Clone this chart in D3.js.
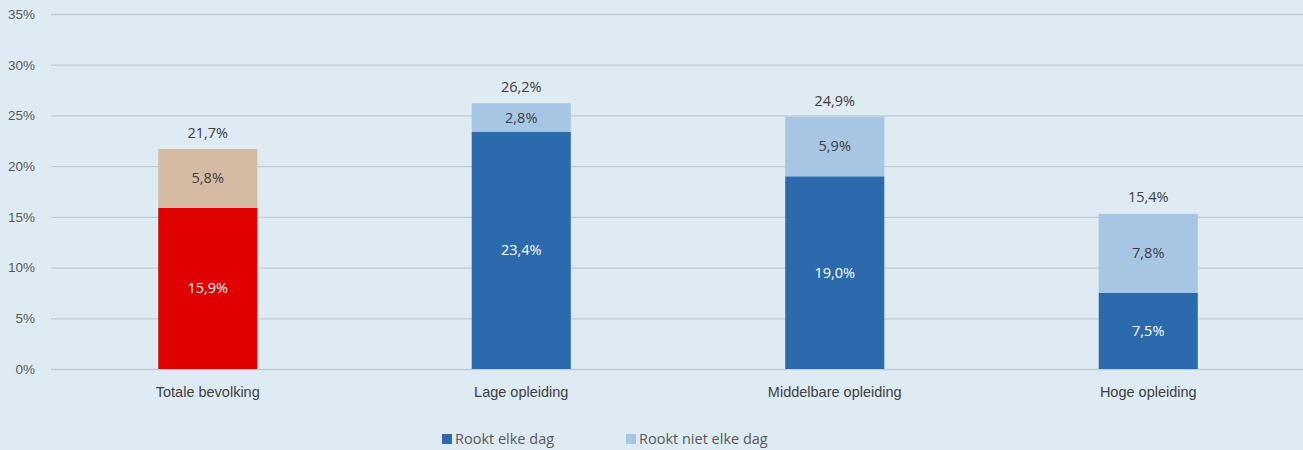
<!DOCTYPE html>
<html>
<head>
<meta charset="utf-8">
<script src="https://cdn.jsdelivr.net/npm/d3@7"></script>
<style>
  body { margin: 0; background: #deebf3; }
  svg { display: block; font-family: "Open Sans", "Liberation Sans", sans-serif; }
</style>
</head>
<body>
<svg id="chart" width="1303" height="450"></svg>
<script>
'use strict';

var categories = ["Totale bevolking", "Lage opleiding", "Middelbare opleiding", "Hoge opleiding"];
var dagelijks = [15.9, 23.4, 19.0, 7.5];
var nietDagelijks = [5.8, 2.8, 5.9, 7.8];
var totalen = [21.7, 26.2, 24.9, 15.4];
var yTicks = [0, 5, 10, 15, 20, 25, 30, 35];
var seriesNames = ["Rookt elke dag", "Rookt niet elke dag"];

var width = 1303, height = 450;
var margin = {top: 14, right: 0, bottom: 81, left: 51};
var labelSize = 14.5;

var svg = d3.select("#chart");

var x = d3.scaleBand()
          .domain(categories)
          .range([margin.left, margin.left + 4 * 313.5])
          .paddingInner(0.684)
          .paddingOuter(0.342);

var y = d3.scaleLinear()
          .domain([0, 35])
          .range([height - margin.bottom, margin.top]);

var fmt = v => v.toFixed(1).replace(".", ",") + "%";

// gridlines + y labels
var yAxis = svg.append("g")
               .attr("transform", "translate(" + margin.left + ",0)")
               .call(d3.axisLeft(y).tickValues(yTicks).tickSize(-(width - margin.left)).tickFormat(d => d + "%").tickPadding(16));
yAxis.select(".domain").remove();
yAxis.selectAll("line").attr("stroke", "#bfcdd7").attr("stroke-width", 1.3);
yAxis.selectAll("text").attr("fill", "#595959").attr("font-size", 13.5);

// colours: first bar is red/tan, rest blue
var darkColor = i => i == 0 ? "#e00000" : "#2a6aad";
var lightColor = i => i == 0 ? "#d6bba4" : "#a6c6e3";

var groups = svg.selectAll("g.bar")
                .data(categories)
                .enter()
                .append("g")
                .classed("bar", true);

groups.append("rect")
      .attr("x", d => x(d))
      .attr("width", x.bandwidth())
      .attr("y", (d, i) => y(dagelijks[i]))
      .attr("height", (d, i) => y(0) - y(dagelijks[i]))
      .attr("fill", (d, i) => darkColor(i));

groups.append("rect")
      .attr("x", d => x(d))
      .attr("width", x.bandwidth())
      .attr("y", (d, i) => y(dagelijks[i] + nietDagelijks[i]))
      .attr("height", (d, i) => y(dagelijks[i]) - y(dagelijks[i] + nietDagelijks[i]))
      .attr("fill", (d, i) => lightColor(i));

// value labels
groups.append("text")
      .attr("x", d => x(d) + x.bandwidth() / 2)
      .attr("y", (d, i) => y(dagelijks[i] / 2))
      .attr("dy", "0.35em")
      .attr("text-anchor", "middle")
      .attr("font-size", labelSize)
      .attr("fill", "#ffffff")
      .text((d, i) => fmt(dagelijks[i]));

groups.append("text")
      .attr("x", d => x(d) + x.bandwidth() / 2)
      .attr("y", (d, i) => y(dagelijks[i] + nietDagelijks[i] / 2))
      .attr("dy", "0.35em")
      .attr("text-anchor", "middle")
      .attr("font-size", labelSize)
      .attr("fill", "#404040")
      .text((d, i) => fmt(nietDagelijks[i]));

groups.append("text")
      .attr("x", d => x(d) + x.bandwidth() / 2)
      .attr("y", (d, i) => y(totalen[i]) - 16)
      .attr("dy", "0.35em")
      .attr("text-anchor", "middle")
      .attr("font-size", labelSize)
      .attr("fill", "#404040")
      .text((d, i) => fmt(totalen[i]));

// category labels
var xAxis = svg.append("g")
               .attr("transform", "translate(0," + y(0) + ")")
               .call(d3.axisBottom(x).tickSize(0).tickPadding(18));
xAxis.select(".domain").remove();
xAxis.selectAll("text").attr("fill", "#404040").attr("font-size", labelSize);

// legend
var legend = svg.append("g").attr("transform", "translate(442,439)");
var legendX = [0, 184];
var legendColors = ["#2a6aad", "#a6c6e3"];
seriesNames.forEach((name, i) => {
    var g = legend.append("g").attr("transform", "translate(" + legendX[i] + ",0)");
    g.append("rect").attr("x", 0).attr("y", -5).attr("width", 10).attr("height", 10).attr("fill", legendColors[i]);
    g.append("text").attr("x", 13).attr("dy", "0.35em").attr("font-size", labelSize).attr("fill", "#595959").text(name);
});
</script>
</body>
</html>
